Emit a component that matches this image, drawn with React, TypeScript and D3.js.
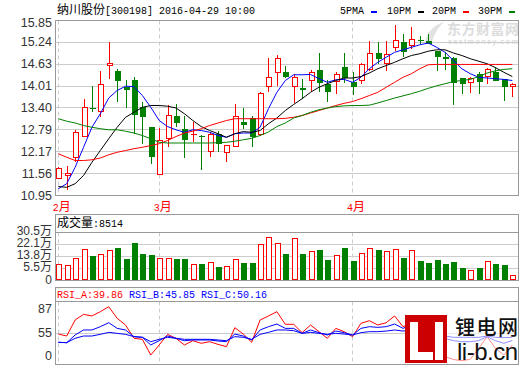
import React from 'react';
import * as d3 from 'd3';

// 标题与图例
const titleText = '纳川股份[300198] 2016-04-29 10:00';
const legendNames = ['5PMA', '10PM', '20PM', '30PM'];
const volHeader = '成交量:8514';
const rsiNames = ['RSI_A:39.86', 'RSI_B:45.85', 'RSI_C:50.16'];

// 月份
const months = ['2月', '3月', '4月'];
const monthIdx = [0, 12, 35];

// K线数据 (开 高 低 收)
const openP = [11.42, 11.51, 12.01, 12.58, 13.40, 13.28, 14.59, 14.45, 13.98, 14.17, 13.44, 12.88, 11.53, 12.54, 13.19,
  12.82, 12.64, 12.61, 12.16, 12.68, 12.15, 12.32, 13.00, 13.13, 12.63, 13.98, 14.39, 14.42, 14.00, 13.97,
  14.15, 14.47, 14.06, 14.12, 14.56, 14.12, 14.15, 14.47, 14.95, 14.64, 15.09, 15.24, 15.13, 15.31, 15.29,
  14.99, 14.84, 14.79, 14.25, 14.11, 14.36, 14.26, 14.40, 14.22, 13.98];
const highP = [11.74, 11.77, 12.79, 13.64, 14.03, 14.45, 15.24, 14.50, 14.17, 14.28, 13.56, 12.88, 12.85, 13.49, 13.50,
  13.19, 13.00, 12.63, 12.72, 12.77, 12.37, 13.52, 13.39, 13.19, 13.85, 14.79, 14.89, 14.59, 14.36, 14.22,
  14.47, 14.95, 14.17, 14.40, 14.95, 14.40, 14.65, 15.27, 15.24, 15.27, 15.71, 15.48, 15.66, 15.43, 15.48,
  15.00, 14.96, 14.82, 14.25, 14.28, 14.40, 14.52, 14.54, 14.22, 14.10];
const lowP = [11.40, 11.09, 11.88, 12.58, 13.28, 13.16, 14.22, 13.56, 13.41, 12.68, 12.40, 11.84, 11.53, 12.32, 12.88,
  12.01, 12.44, 11.67, 12.02, 12.16, 11.88, 12.30, 12.82, 12.30, 12.62, 13.84, 14.03, 14.25, 13.53, 13.66,
  13.84, 13.84, 13.56, 13.80, 14.09, 13.75, 14.08, 14.45, 14.64, 14.45, 14.99, 14.82, 15.06, 15.18, 15.19,
  14.45, 14.47, 13.49, 13.80, 13.81, 13.80, 14.08, 14.15, 13.59, 13.72];
const closeP = [11.73, 11.59, 12.74, 13.42, 13.38, 14.08, 14.66, 14.15, 13.91, 13.21, 13.14, 12.02, 12.49, 13.21, 12.97,
  12.51, 12.66, 12.59, 12.68, 12.40, 12.37, 13.17, 12.93, 12.60, 13.83, 14.28, 14.81, 14.26, 14.28, 13.91,
  14.40, 14.09, 13.84, 14.36, 14.25, 14.00, 14.62, 14.95, 14.78, 14.92, 15.31, 14.96, 15.32, 15.27, 15.20,
  14.82, 14.78, 14.09, 14.08, 14.25, 14.12, 14.50, 14.15, 13.98, 14.08];

// 均线
const ma5 = [11.14, 11.28, 11.74, 12.30, 12.86, 13.24, 13.68, 13.89, 14.01, 14.00, 13.75, 13.42, 13.05, 12.88, 12.79,
  12.72, 12.79, 12.77, 12.72, 12.63, 12.58, 12.68, 12.70, 12.70, 12.86, 13.38, 13.84, 14.17, 14.33, 14.33,
  14.34, 14.22, 14.12, 14.19, 14.20, 14.12, 14.26, 14.50, 14.68, 14.82, 14.96, 15.03, 15.10, 15.17, 15.22,
  15.10, 14.96, 14.73, 14.50, 14.36, 14.26, 14.24, 14.22, 14.20, 14.17];
const ma10 = [11.20, 11.18, 11.28, 11.51, 11.88, 12.21, 12.54, 12.86, 13.14, 13.28, 13.42, 13.47, 13.47, 13.45, 13.40,
  13.24, 13.05, 12.88, 12.77, 12.68, 12.58, 12.68, 12.74, 12.72, 12.77, 12.96, 13.12, 13.33, 13.50, 13.66,
  13.84, 13.98, 14.08, 14.17, 14.24, 14.24, 14.28, 14.38, 14.50, 14.59, 14.68, 14.78, 14.87, 14.92, 14.99,
  15.03, 15.03, 14.94, 14.87, 14.78, 14.71, 14.64, 14.53, 14.40, 14.28];
const ma20 = [12.12, 12.02, 11.93, 11.93, 11.95, 12.00, 12.09, 12.16, 12.21, 12.26, 12.30, 12.35, 12.40, 12.49, 12.60,
  12.70, 12.75, 12.82, 12.91, 12.98, 13.05, 13.10, 13.10, 13.10, 13.10, 13.10, 13.10, 13.11, 13.14, 13.19,
  13.26, 13.33, 13.40, 13.47, 13.53, 13.58, 13.66, 13.75, 13.84, 13.98, 14.12, 14.26, 14.36, 14.50, 14.61,
  14.62, 14.62, 14.62, 14.62, 14.62, 14.62, 14.62, 14.62, 14.62, 14.62];
const ma30 = [13.10, 13.03, 12.98, 12.91, 12.86, 12.82, 12.79, 12.79, 12.75, 12.70, 12.63, 12.54, 12.44, 12.42, 12.42,
  12.42, 12.42, 12.42, 12.42, 12.43, 12.44, 12.47, 12.51, 12.55, 12.63, 12.73, 12.88, 12.98, 13.12, 13.19,
  13.28, 13.35, 13.40, 13.44, 13.46, 13.47, 13.47, 13.48, 13.54, 13.61, 13.68, 13.74, 13.80, 13.87, 13.95,
  14.02, 14.08, 14.14, 14.17, 14.20, 14.28, 14.38, 14.44, 14.48, 14.50];

// 成交量 (万)
const volume = [8.6, 7.9, 12.7, 19.1, 14.3, 15.7, 18.6, 20.0, 12.2, 22.9, 15.7, 15.0, 12.9, 12.9, 12.2,
  12.2, 8.6, 8.6, 10.0, 6.5, 7.2, 12.0, 9.1, 9.5, 22.2, 27.6, 23.4, 15.7, 26.9, 15.7,
  17.6, 18.6, 11.5, 14.8, 20.0, 10.7, 16.2, 19.8, 18.6, 17.6, 19.1, 12.9, 18.4, 10.7, 9.3,
  11.5, 8.6, 10.0, 5.8, 4.8, 5.8, 10.5, 8.6, 7.9, 0.85];

// RSI
const rsiA = [54.3, 51.7, 72.6, 80.0, 77.9, 83.5, 90.0, 74.8, 66.1, 48.7, 47.4, 26.9, 40.0, 53.9, 48.7,
  40.0, 45.6, 42.2, 44.3, 40.8, 37.8, 62.6, 54.3, 43.5, 72.6, 77.9, 83.5, 67.0, 67.0, 56.1,
  66.1, 57.4, 48.7, 61.7, 57.4, 50.9, 68.3, 71.7, 66.1, 69.1, 77.9, 63.9, 68.3, 59.5, 48.7,
  55.2, 24.8, 21.0, 19.5, 21.3, 35.6, 50.9, 35.6, 26.9, 39.86];
const rsiB = [43.5, 43.0, 53.0, 59.6, 59.6, 63.9, 69.1, 61.7, 59.6, 50.9, 50.0, 40.0, 45.6, 51.7, 48.7,
  45.6, 46.5, 46.5, 46.5, 45.2, 44.3, 54.3, 51.7, 46.5, 59.6, 63.9, 67.4, 61.7, 61.7, 55.2,
  59.6, 56.1, 53.0, 58.2, 56.1, 53.0, 61.7, 63.9, 63.0, 63.9, 67.4, 61.7, 66.1, 59.6, 55.2,
  55.2, 48.7, 45.6, 44.3, 44.3, 45.6, 50.9, 45.6, 42.2, 45.85];
const rsiC = [43.5, 43.0, 48.7, 51.7, 51.7, 53.9, 56.5, 55.2, 53.9, 50.9, 50.0, 44.3, 47.4, 50.0, 48.7,
  47.4, 47.4, 47.4, 47.4, 46.5, 45.6, 50.9, 50.0, 47.4, 53.9, 56.5, 59.6, 59.6, 58.7, 55.2,
  56.5, 55.2, 53.9, 55.2, 54.3, 53.0, 56.1, 57.4, 57.4, 58.2, 59.6, 58.2, 59.6, 57.4, 55.2,
  55.2, 51.7, 50.0, 50.0, 50.0, 50.0, 51.7, 50.0, 49.6, 50.16];

// 坐标刻度
const priceTicks = ['10.95', '11.56', '12.17', '12.79', '13.40', '14.01', '14.63', '15.24', '15.85'];
const volTicks = [5.5, 13.8, 22.1, 30.5];
const volTickLabels = ['5.5万', '13.8万', '22.1万', '30.5万'];
const rsiTicks = [87, 55];

const RED = '#ff0000';
const GREEN = '#008000';
const BLUE = '#0000ff';
const BORDER = '#999999';
const GRID = '#cccccc';
const LABEL = '#333333';
const MONO = '"Liberation Mono", "DejaVu Sans Mono", monospace';
const CJK = '"Noto Sans CJK SC", sans-serif';
const SANS = '"Liberation Sans", Arial, "Noto Sans CJK SC", sans-serif';

const L = 55.5, R = 518.5;

// 中英文混排: 汉字12px, 其余等宽10px
function Mixed({ x, y, text, fill = '#000' }: { x: number; y: number; text: string; fill?: string }) {
  const runs = text.match(/[\u3000-\u9fff\uff00-\uffef]+|[^\u3000-\u9fff\uff00-\uffef]+/g) || [];
  return (
    <text x={x} y={y} fill={fill} style={{ whiteSpace: 'pre' }}>
      {runs.map((r, i) =>
        /[\u3000-\u9fff\uff00-\uffef]/.test(r)
          ? <tspan key={i} fontFamily={CJK} fontSize={12}>{r}</tspan>
          : <tspan key={i} fontFamily={MONO} fontSize={10}>{r}</tspan>
      )}
    </text>
  );
}

export default function App() {
  const xs = d3.scaleLinear().domain([0, 54]).range([58.3, 512.3]);
  const yP = d3.scaleLinear().domain([10.95, 15.85]).range([195.5, 20.5]);
  const yV = d3.scaleLinear().domain([-2.8, 30.5]).range([280.5, 232.5]);
  const yR = d3.scaleLinear().domain([26, 87]).range([355.7, 309]);

  const pLine = d3.line<number>().x((_, i) => xs(i)).y(d => yP(d));
  const rLine = d3.line<number>().x((_, i) => xs(i)).y(d => yR(d));

  const crisp = (v: number) => Math.round(v - 0.5) + 0.5;
  const maColors = [BLUE, '#000000', RED, GREEN];
  const maSeries = [ma5, ma10, ma20, ma30];
  const legendX = [340, 387, 432, 478];

  const candles = closeP.map((c, i) => {
    const o = openP[i];
    const up = c >= o;
    const px = Math.round(xs(i));
    const top = Math.round(yP(Math.max(o, c)));
    const bot = Math.round(yP(Math.min(o, c)));
    const hi = Math.round(yP(highP[i]));
    const lo = Math.round(yP(lowP[i]));
    const col = up ? RED : GREEN;
    const wx = px + 0.5;
    if (bot - top < 2) {
      return (
        <g key={i}>
          <line x1={wx} x2={wx} y1={hi} y2={lo} stroke={col} />
          <line x1={px - 2} x2={px + 4} y1={top + 0.5} y2={top + 0.5} stroke={col} />
        </g>
      );
    }
    if (up) {
      return (
        <g key={i}>
          <line x1={wx} x2={wx} y1={hi} y2={top} stroke={col} />
          <line x1={wx} x2={wx} y1={bot} y2={lo} stroke={col} />
          <rect x={px - 1.5} y={top + 0.5} width={5} height={bot - top - 1} fill="#fff" stroke={col} />
        </g>
      );
    }
    return (
      <g key={i}>
        <line x1={wx} x2={wx} y1={hi} y2={lo} stroke={col} />
        <rect x={px - 2} y={top} width={6} height={bot - top} fill={col} />
      </g>
    );
  });

  const volBars = volume.map((v, i) => {
    const up = closeP[i] >= openP[i];
    const px = Math.round(xs(i));
    const top = Math.round(yV(v));
    const bot = 280;
    if (up) {
      return <rect key={i} x={px - 1.5} y={top + 0.5} width={5} height={bot - top - 1} fill="#fff" stroke={RED} />;
    }
    return <rect key={i} x={px - 2} y={top} width={6} height={bot - top} fill={GREEN} />;
  });

  const monthLines = (y1: number, y2: number) =>
    monthIdx.map((m, i) => (
      <line key={i} x1={crisp(xs(m))} x2={crisp(xs(m))} y1={y1} y2={y2} stroke={GRID} strokeDasharray="4,3" />
    ));

  return (
    <svg width={520} height={365} style={{ position: 'fixed', left: 0, top: 0, background: '#fff' }}>
      <defs>
        <clipPath id="mainClip"><rect x={L} y={20.5} width={R - L} height={175} /></clipPath>
        <clipPath id="rsiClip"><rect x={L} y={301.5} width={R - L} height={62.5} /></clipPath>
      </defs>

      {/* 水印 */}
      <text x={447} y={34} fontFamily={CJK} fontWeight="bold" fontSize={14} fill="#dcdcdc" textLength={72}>东方财富网</text>
      <text x={448} y={43.5} fontFamily={SANS} fontWeight="bold" fontSize={7.5} fill="#dcdcdc" textLength={70}>eastmoney.com</text>
      <path d="M425,42 C428,30 436,24 444,22 C438,28 434,34 432,42 Z" fill="#e2e2e2" />

      {/* 标题 */}
      <Mixed x={57} y={14} text={titleText} />
      {legendNames.map((n, i) => (
        <g key={n}>
          <Mixed x={legendX[i]} y={14} text={n} />
          <rect x={legendX[i] + n.length * 6 + 7} y={11} width={6} height={2} fill={maColors[i]} />
        </g>
      ))}

      {/* 主图网格 */}
      {priceTicks.map(t => (
        <line key={t} x1={L} x2={R} y1={crisp(yP(+t))} y2={crisp(yP(+t))} stroke={GRID} />
      ))}
      {monthLines(20.5, 195.5)}
      {priceTicks.map(t => (
        <text key={t} x={52} y={Math.max(yP(+t), 23)} textAnchor="end" dominantBaseline="central"
          fontFamily={SANS} fontSize={12.5} fill={LABEL}>{t}</text>
      ))}

      <g clipPath="url(#mainClip)">
        {candles}
        {maSeries.map((s, i) => (
          <path key={i} d={pLine(s) || ''} fill="none" stroke={maColors[i]} strokeWidth={1} />
        ))}
      </g>
      <rect x={L} y={20.5} width={R - L} height={175} fill="none" stroke={BORDER} />

      {/* 月份 */}
      {months.map((m, i) => (
        <Mixed key={m} x={xs(monthIdx[i]) - 5.5} y={211} text={m} fill={RED} />
      ))}

      {/* 成交量 */}
      {volTicks.slice(0, 3).map(t => (
        <line key={t} x1={L} x2={R} y1={crisp(yV(t))} y2={crisp(yV(t))} stroke={GRID} />
      ))}
      {monthLines(232.5, 280)}
      {volBars}
      <rect x={L} y={214.5} width={R - L} height={66} fill="none" stroke={BORDER} />
      <line x1={L} x2={R} y1={232.5} y2={232.5} stroke={BORDER} />
      <Mixed x={57} y={227} text={volHeader} />
      {volTicks.map((t, i) => (
        <text key={t} x={52} y={yV(t) - 2} textAnchor="end" dominantBaseline="central"
          fontFamily={SANS} fontSize={12} fill={LABEL}>{volTickLabels[i]}</text>
      ))}
      <text x={52} y={yV(-2.8) - 1} textAnchor="end" dominantBaseline="central"
        fontFamily={SANS} fontSize={12} fill={LABEL}>0</text>

      {/* RSI */}
      <line x1={L} x2={R} y1={crisp(yR(55))} y2={crisp(yR(55))} stroke={GRID} />
      {monthLines(301.5, 364)}
      <g clipPath="url(#rsiClip)">
        <path d={rLine(rsiA) || ''} fill="none" stroke={RED} />
        <path d={rLine(rsiB) || ''} fill="none" stroke={BLUE} />
        <path d={rLine(rsiC) || ''} fill="none" stroke={BLUE} />
      </g>
      <rect x={L} y={287.5} width={R - L} height={77} fill="none" stroke={BORDER} />
      <line x1={L} x2={R} y1={301.5} y2={301.5} stroke={BORDER} />
      {rsiNames.map((n, i) => (
        <Mixed key={n} x={57 + i * 72} y={298} text={n} fill={i === 0 ? RED : BLUE} />
      ))}
      {rsiTicks.map(t => (
        <text key={t} x={52} y={yR(t)} textAnchor="end" dominantBaseline="central"
          fontFamily={SANS} fontSize={12.5} fill={LABEL}>{t}</text>
      ))}
      <text x={52} y={yR(26)} textAnchor="end" dominantBaseline="central"
        fontFamily={SANS} fontSize={12.5} fill={LABEL}>0</text>

      {/* 锂电网 标志 */}
      <rect x={447} y={303} width={71} height={61} fill="#fff" opacity={0.55} />
      <rect x={405} y={315} width={42} height={48} fill="#cc0000" />
      <rect x={410} y={322} width={8} height={38} fill="#fff" />
      <rect x={410} y={352} width={23} height={8} fill="#fff" />
      <rect x={435} y={322} width={8} height={38} fill="#fff" />
      <text x={455} y={335} fontFamily={CJK} fontSize={20} fontWeight={500} textLength={63} fill="#111">锂电网</text>
      <text x={457} y={360} fontFamily={SANS} fontSize={24} textLength={61} fill="#111">li-b.cn</text>
    </svg>
  );
}
